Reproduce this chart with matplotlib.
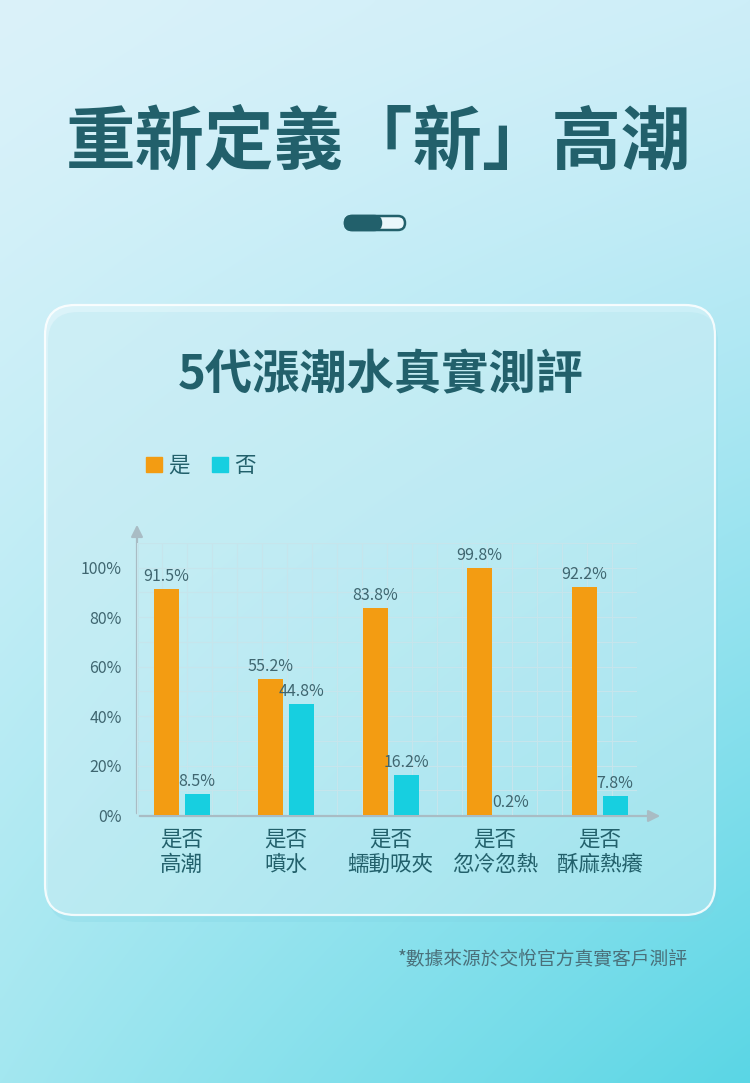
import numpy as np
import matplotlib

matplotlib.use("Agg")
import matplotlib.pyplot as plt
from matplotlib.colors import to_rgb
from matplotlib.patches import FancyBboxPatch, Patch

plt.rcParams["font.family"] = ["Noto Sans CJK TC", "DejaVu Sans"]

# data
categories = ["是否\n高潮", "是否\n噴水", "是否\n蠕動吸夾", "是否\n忽冷忽熱", "是否\n酥麻熱癢"]
yes_values = [91.5, 55.2, 83.8, 99.8, 92.2]
no_values = [8.5, 44.8, 16.2, 0.2, 7.8]
series_names = ["是", "否"]
y_ticks = [0, 20, 40, 60, 80, 100]
y_tick_labels = ["0%", "20%", "40%", "60%", "80%", "100%"]

title = "重新定義「新」高潮"
subtitle = "5代漲潮水真實測評"
footnote = "*數據來源於交悅官方真實客戶測評"

ORANGE = "#f39c12"
CYAN = "#17cfe0"
DARK = "#22606b"
TEXT = "#3f6670"
W, H = 750, 1083

fig = plt.figure(figsize=(W / 100, H / 100), dpi=100)

# background in pixel coordinates
bg = fig.add_axes([0, 0, 1, 1], zorder=0)
bg.set_xlim(0, W)
bg.set_ylim(H, 0)
bg.axis("off")

tl, tr = np.array(to_rgb("#dbf2fa")), np.array(to_rgb("#cdeef8"))
bl, br = np.array(to_rgb("#a3e7f0")), np.array(to_rgb("#5ad6e5"))
u = np.linspace(0, 1, 200)[None, :, None]
v = np.linspace(0, 1, 300)[:, None, None] ** 1.2
grad = (1 - v) * ((1 - u) * tl + u * tr) + v * ((1 - u) * bl + u * br)
bg.imshow(grad, extent=(0, W, H, 0), aspect="auto", interpolation="bicubic")

# card
bg.add_patch(FancyBboxPatch((48, 312), 670, 610, boxstyle="round,pad=0,rounding_size=30",
                            facecolor="#7fd3e3", edgecolor="none", alpha=0.25))
bg.add_patch(FancyBboxPatch((45, 305), 670, 610, boxstyle="round,pad=0,rounding_size=30",
                            facecolor="white", alpha=0.3, edgecolor="none"))
bg.add_patch(FancyBboxPatch((45, 305), 670, 610, boxstyle="round,pad=0,rounding_size=30",
                            facecolor="none", edgecolor="white", alpha=0.85, linewidth=1.6))

# pill
bg.add_patch(FancyBboxPatch((345, 216), 60, 14, boxstyle="round,pad=0,rounding_size=7",
                            facecolor="#eaf7fb", edgecolor=DARK, linewidth=1.8))
bg.add_patch(FancyBboxPatch((345, 216), 36, 14, boxstyle="round,pad=0,rounding_size=7",
                            facecolor=DARK, edgecolor=DARK, linewidth=1.8))

bg.text(379, 144, title, ha="center", va="center", fontsize=50, fontweight="black", color=DARK)
bg.text(381, 375, subtitle, ha="center", va="center", fontsize=34, fontweight="bold", color=DARK)
bg.text(688, 960, footnote, ha="right", va="center", fontsize=13.5, color="#4a707a")

# axis arrows
axis_color = "#a9bcc4"
bg.annotate("", xy=(137, 522), xytext=(137, 816),
            arrowprops=dict(arrowstyle="-|>,head_width=0.35,head_length=0.7", color=axis_color, lw=1.6))
bg.annotate("", xy=(663, 816), xytext=(137, 816),
            arrowprops=dict(arrowstyle="-|>,head_width=0.35,head_length=0.7", color=axis_color, lw=1.6))

left, right, top, bottom = 137, 637, 543, 815
pos = [left / W, 1 - bottom / H, (right - left) / W, (bottom - top) / H]

# grid layer
grid_ax = fig.add_axes(pos, zorder=1)
grid_ax.set_xlim(0, 20)
grid_ax.set_ylim(0, 11)
grid_ax.set_xticks(range(21))
grid_ax.set_yticks(range(12))
grid_ax.grid(True, color="#c6e5ec", linewidth=0.8)
grid_ax.tick_params(length=0, labelbottom=False, labelleft=False)
grid_ax.patch.set_alpha(0)
for s in grid_ax.spines.values():
    s.set_visible(False)

# bars
ax = fig.add_axes(pos, zorder=2)
ax.patch.set_alpha(0)
x = np.arange(len(categories))
spacing = 104.5
ax.set_xlim(-(181.5 - left) / spacing, (right - 181.5) / spacing)
ax.set_ylim(0, 110)
bw = 25 / spacing
off = 15.5 / spacing
ax.bar(x - off, yes_values, bw, color=ORANGE, label=series_names[0])
ax.bar(x + off, no_values, bw, color=CYAN, label=series_names[1])
for xi, yv, nv in zip(x, yes_values, no_values):
    ax.text(xi - off, yv + 1.6, f"{yv}%", ha="center", va="bottom", fontsize=11.5, color=TEXT)
    ax.text(xi + off, nv + 1.6, f"{nv}%", ha="center", va="bottom", fontsize=11.5, color=TEXT)

ax.set_yticks(y_ticks)
ax.set_yticklabels(y_tick_labels, fontsize=11.5, color=TEXT)
ax.set_xticks(x)
ax.set_xticklabels(categories, fontsize=15.5, color=DARK, linespacing=1.2)
ax.tick_params(axis="y", length=0, pad=11)
ax.tick_params(axis="x", length=0, pad=10)
for s in ax.spines.values():
    s.set_visible(False)

handles = [Patch(color=ORANGE), Patch(color=CYAN)]
fig.legend(handles, series_names, loc="center left", bbox_to_anchor=(146 / W, 1 - 466 / H),
           ncol=2, frameon=False, fontsize=15.5, handlelength=0.75, handleheight=0.75,
           handletextpad=0.3, columnspacing=1.0, borderpad=0, borderaxespad=0,
           labelcolor=DARK)

fig.savefig("out.png", dpi=100)
